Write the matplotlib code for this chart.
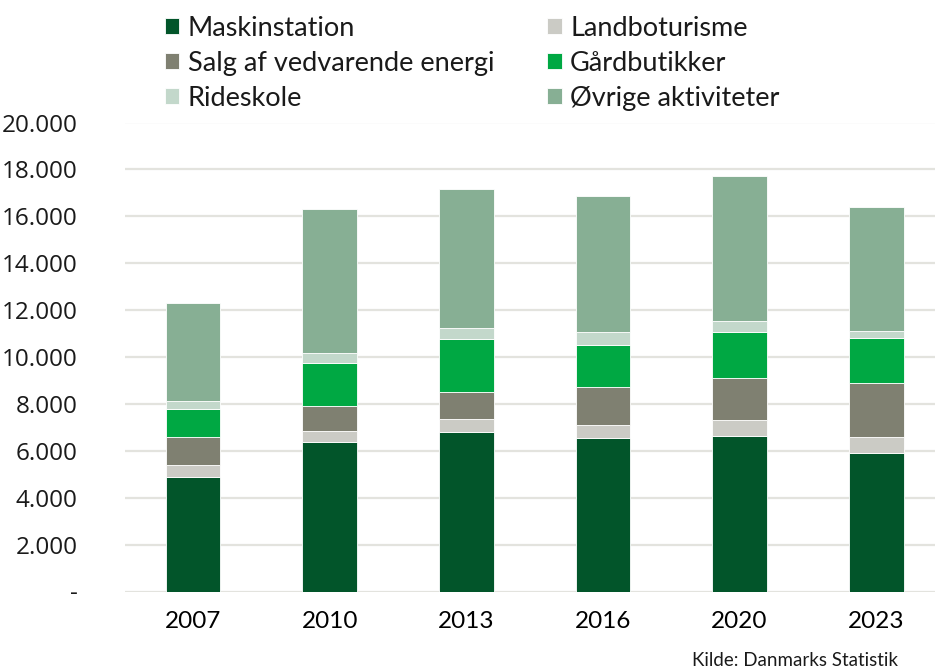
import numpy as np
import matplotlib
matplotlib.use("Agg")
import matplotlib.pyplot as plt
from matplotlib.ticker import FuncFormatter

years = ["2007", "2010", "2013", "2016", "2020", "2023"]

maskinstation = [4900, 6370, 6820, 6560, 6640, 5920]
landboturisme = [490, 480, 540, 550, 670, 680]
salg_energi = [1210, 1070, 1130, 1600, 1780, 2300]
gaardbutikker = [1190, 1830, 2280, 1810, 1980, 1910]
rideskole = [330, 430, 450, 530, 450, 290]
oevrige = [4200, 6130, 5940, 5820, 6190, 5310]

series = [
    ("Maskinstation", maskinstation, "#02552A"),
    ("Landboturisme", landboturisme, "#CBCBC5"),
    ("Salg af vedvarende energi", salg_energi, "#7F8071"),
    ("Gårdbutikker", gaardbutikker, "#00A843"),
    ("Rideskole", rideskole, "#C3D8CB"),
    ("Øvrige aktiviteter", oevrige, "#87AF94"),
]

plt.rcParams["font.family"] = ["Lato", "DejaVu Sans"]

fig = plt.figure(figsize=(9.35, 6.71), dpi=100)
ax = fig.add_axes([125 / 935, (671 - 591.5) / 671, 810 / 935, 469 / 671])

x = np.arange(len(years))
bottom = np.zeros(len(years))
handles = {}
for name, vals, col in series:
    b = ax.bar(x, vals, width=0.4, bottom=bottom, color=col,
               edgecolor="white", linewidth=0.6, label=name, zorder=3)
    handles[name] = b
    bottom += np.array(vals)

ax.set_ylim(0, 20000)
ax.set_yticks(range(0, 20001, 2000))
ax.set_xlim(-0.498, 5.43)
ax.set_xticks(x)
ax.set_xticklabels(years, fontsize=17.5)


def fmt(v, pos):
    if v == 0:
        return "-"
    return f"{int(v):,}".replace(",", ".")


ax.yaxis.set_major_formatter(FuncFormatter(fmt))
for lab in ax.get_yticklabels():
    lab.set_fontfamily("Open Sans")
    lab.set_fontsize(17.5)
    lab.set_color("#1a1a1a")

ax.grid(axis="y", color="#E3E3DE", linewidth=1.6, zorder=0)
ax.tick_params(axis="both", length=0)
ax.tick_params(axis="y", pad=34)
ax.tick_params(axis="x", pad=14)
for s in ax.spines.values():
    s.set_visible(False)

order = ["Maskinstation", "Salg af vedvarende energi", "Rideskole",
         "Landboturisme", "Gårdbutikker", "Øvrige aktiviteter"]
leg = fig.legend([handles[n] for n in order], order, ncol=2,
                 loc="upper left", bbox_to_anchor=(151 / 935, 1 - 2 / 671),
                 frameon=False, fontsize=19.5, handlelength=0.55,
                 handleheight=0.55, handletextpad=0.3, labelspacing=0.37,
                 columnspacing=1.96, borderpad=0.0)
for t in leg.get_texts():
    t.set_color("#1a1a1a")

fig.text(898 / 935, 1 - 660 / 671, "Kilde: Danmarks Statistik",
         ha="right", va="center", fontsize=13.5, color="#1a1a1a")

fig.savefig("out.png", dpi=100)
